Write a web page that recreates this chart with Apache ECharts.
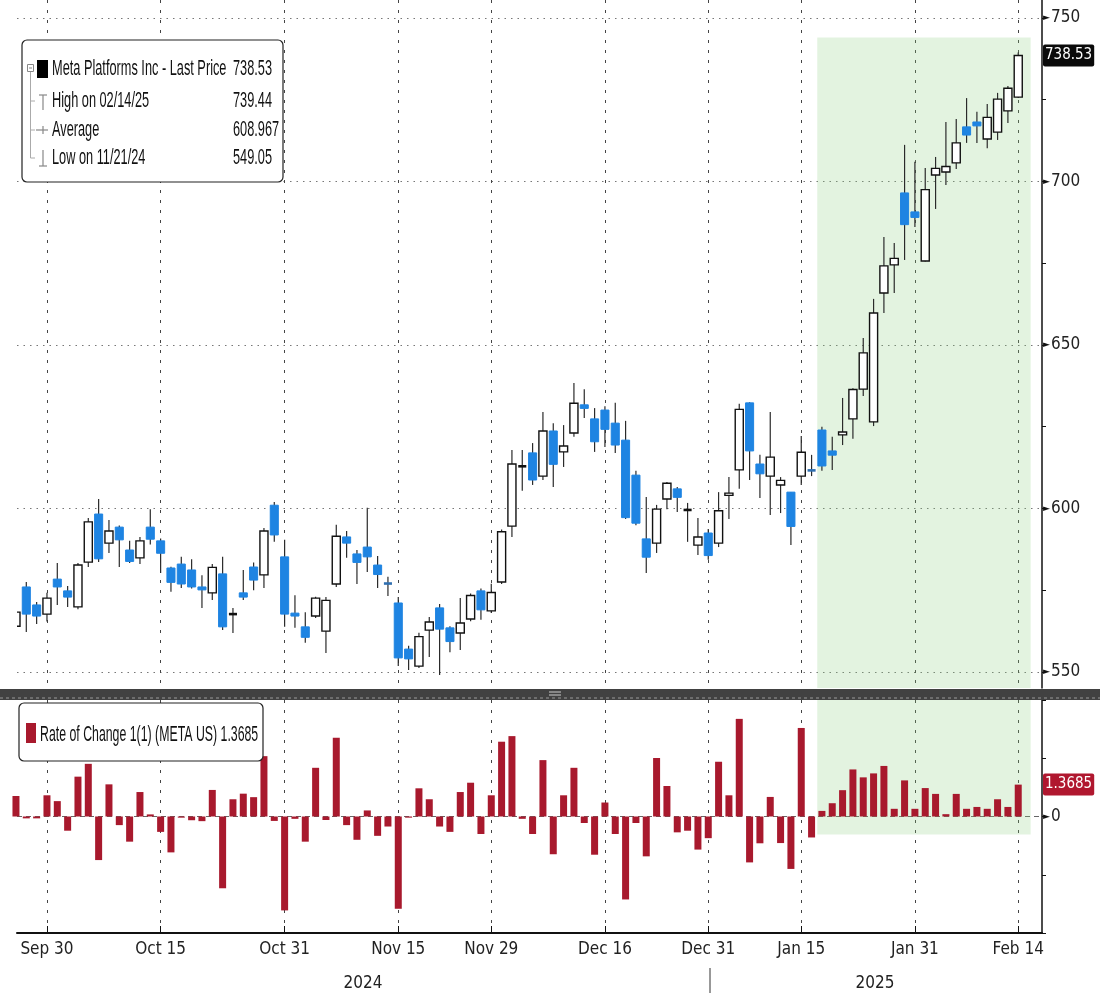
<!DOCTYPE html>
<html><head><meta charset="utf-8">
<script src="https://cdn.jsdelivr.net/npm/echarts@6/dist/echarts.min.js"></script>
<style>html,body{margin:0;padding:0;background:#fff}#c{width:1100px;height:993px}</style>
</head><body><div id="c"></div>
<script>
const dates = ['2024-09-25','2024-09-26','2024-09-27','2024-09-30',
'2024-10-01','2024-10-02','2024-10-03','2024-10-04','2024-10-07','2024-10-08','2024-10-09','2024-10-10','2024-10-11','2024-10-14','2024-10-15','2024-10-16','2024-10-17','2024-10-18','2024-10-21','2024-10-22','2024-10-23','2024-10-24','2024-10-25','2024-10-28','2024-10-29','2024-10-30','2024-10-31',
'2024-11-01','2024-11-04','2024-11-05','2024-11-06','2024-11-07','2024-11-08','2024-11-11','2024-11-12','2024-11-13','2024-11-14','2024-11-15','2024-11-18','2024-11-19','2024-11-20','2024-11-21','2024-11-22','2024-11-25','2024-11-26','2024-11-27','2024-11-29',
'2024-12-02','2024-12-03','2024-12-04','2024-12-05','2024-12-06','2024-12-09','2024-12-10','2024-12-11','2024-12-12','2024-12-13','2024-12-16','2024-12-17','2024-12-18','2024-12-19','2024-12-20','2024-12-23','2024-12-24','2024-12-26','2024-12-27','2024-12-30','2024-12-31',
'2025-01-02','2025-01-03','2025-01-06','2025-01-07','2025-01-08','2025-01-10','2025-01-13','2025-01-14','2025-01-15','2025-01-16','2025-01-17','2025-01-21','2025-01-22','2025-01-23','2025-01-24','2025-01-27','2025-01-28','2025-01-29','2025-01-30','2025-01-31',
'2025-02-03','2025-02-04','2025-02-05','2025-02-06','2025-02-07','2025-02-10','2025-02-11','2025-02-12','2025-02-13','2025-02-14'];

const opens = [564.0,576.0,570.5,567.7,578.4,574.8,569.9,583.6,598.3,589.4,594.3,587.3,584.9,594.3,590.1,581.8,583.0,581.2,576.0,574.2,580.0,567.5,574.2,582.1,579.7,601.0,585.2,
568.0,563.8,567.1,562.5,576.9,591.3,586.1,588.2,582.7,577.2,571.1,557.0,551.8,562.8,569.6,563.5,561.9,566.2,574.8,568.7,
577.5,594.6,612.8,617.0,609.9,623.7,617.3,623.1,631.7,627.4,630.1,626.1,620.9,610.2,590.7,589.4,602.9,606.0,599.4,588.8,592.5,
589.4,604.0,611.8,632.3,613.6,609.9,607.2,605.0,609.9,611.8,624.0,617.6,622.5,627.4,636.5,626.5,665.9,674.5,696.5,690.7,
675.7,702.0,702.9,705.7,716.7,718.2,713.0,715.1,721.6,725.8];

const closes = [568.3,567.7,567.1,572.6,576.0,572.9,582.7,595.9,584.6,593.1,590.4,583.8,590.1,590.6,586.3,577.4,576.9,576.0,575.1,582.0,563.8,567.9,572.9,578.1,593.1,591.9,567.7,
567.1,560.6,572.6,571.9,591.5,589.4,583.5,585.2,579.8,576.9,554.3,554.0,560.8,565.3,563.1,559.3,565.0,573.4,569.0,574.3,
592.9,613.6,613.0,608.7,623.7,613.5,619.1,632.2,630.6,620.4,624.2,619.4,597.2,595.5,585.1,599.8,607.7,603.4,599.7,591.3,585.6,
599.3,604.7,630.3,617.6,610.6,615.7,608.6,594.5,617.2,611.5,613.0,616.3,623.4,636.4,647.6,659.8,674.2,676.5,686.8,689.0,
697.5,704.0,704.6,711.8,714.2,717.0,719.6,725.2,728.5,738.53];

const lows = [562.5,562.2,564.7,565.4,570.5,569.9,569.2,582.1,583.6,586.4,582.1,583.3,583.0,589.0,580.3,574.5,575.7,575.5,569.6,572.0,562.8,561.9,572.0,575.0,575.7,589.8,563.8,
563.5,558.9,566.5,555.8,576.0,584.9,576.9,580.6,575.7,573.2,551.8,550.6,551.2,554.6,549.05,556.0,556.7,565.5,566.0,568.0,
576.9,591.3,605.4,607.2,608.7,606.6,612.7,621.9,627.7,617.3,618.8,617.0,596.8,594.9,580.3,586.4,599.8,598.9,589.8,585.8,584.3,
588.2,596.8,606.0,608.7,603.2,598.0,598.6,588.8,607.2,609.9,611.5,611.8,619.4,621.3,634.4,625.2,659.8,665.9,676.0,686.1,
675.5,691.6,698.9,703.8,711.8,711.8,710.2,712.7,717.9,725.5];

const highs = [569.5,577.5,571.4,574.2,583.3,576.3,583.3,597.1,602.9,596.5,594.8,590.1,591.3,599.8,590.8,582.2,585.2,584.5,579.6,583.0,585.2,569.6,581.2,583.5,594.0,602.0,590.4,
573.5,568.3,573.0,572.9,595.0,593.1,587.3,600.2,585.5,579.1,572.9,558.0,562.0,566.8,570.8,564.0,572.6,574.0,575.5,577.0,
593.6,617.9,617.9,620.0,629.5,626.1,625.5,638.4,636.5,630.7,631.3,632.3,626.8,611.5,603.5,601.1,608.1,606.6,601.7,597.1,593.7,
605.0,609.6,632.0,632.5,616.4,629.5,609.6,605.0,622.2,616.4,625.0,621.9,633.8,636.8,652.1,664.1,683.0,681.2,711.2,706.0,
704.1,707.5,718.2,719.1,725.5,721.3,723.7,727.1,729.2,739.44];

const roc = [0.88,-0.08,-0.08,0.91,0.66,-0.61,1.71,2.26,-1.87,1.38,
-0.37,-1.08,1.05,0.09,-0.66,-1.54,-0.05,-0.16,-0.2,1.14,
-3.08,0.74,0.98,0.83,2.59,-0.19,-4.03,-0.1,-1.08,2.09,
-0.15,3.38,-0.37,-1.0,0.26,-0.83,-0.43,-3.96,-0.05,1.21,
0.74,-0.43,-0.66,1.05,1.45,-0.75,0.91,3.21,3.45,-0.1,
-0.75,2.42,-1.62,0.91,2.09,-0.28,-1.64,0.6,-0.75,-3.56,
-0.28,-1.71,2.51,1.31,-0.68,-0.61,-1.42,-0.93,2.35,0.91,
4.19,-1.97,-1.15,0.84,-1.14,-2.25,3.8,-0.9,0.24,0.57,
1.13,2.02,1.68,1.85,2.17,0.33,1.55,0.33,1.22,0.97,
0.1,0.97,0.33,0.41,0.33,0.74,0.41,1.3685];

const xTickDates = ['2024-09-30','2024-10-15','2024-10-31','2024-11-15','2024-11-29','2024-12-16','2024-12-31','2025-01-15','2025-01-31','2025-02-14'];
const xTickLabels = ['Sep 30','Oct 15','Oct 31','Nov 15','Nov 29','Dec 16','Dec 31','Jan 15','Jan 31','Feb 14'];
const yearLabels = ['2024','2025'];
const priceLabels = [550,600,650,700,750];
const priceMinorTicks = [550,575,600,625,650,675,700,725,750];
const lastPrice = 738.53;
const lastRoc = 1.3685;
const legendRows = [
  {label:'Meta Platforms Inc - Last Price', value:'738.53'},
  {label:'High on 02/14/25', value:'739.44'},
  {label:'Average', value:'608.967'},
  {label:'Low on 11/21/24', value:'549.05'}
];
const rocLegend = 'Rate of Change 1(1) (META US)';

// layout
const baseIdx = dates.indexOf('2024-09-30');
const xIdx = dates.map((d,i)=> i - baseIdx);
const xTickIdx = xTickDates.map(d => dates.indexOf(d) - baseIdx);
const X_MIN = -2.9, X_MAX = 96.3;
const SHADE_X0 = 74.55, SHADE_X1 = 95.2, SHADE_TOP = 744, SHADE_ROC_BOTTOM = -0.77;
const P_MIN = 545.1, P_MAX = 755.5;

const NARROW = '"Liberation Sans Narrow","DejaVu Sans Condensed","Arial Narrow","Liberation Sans",sans-serif';
const BLUE = '#1e84e2', RED = '#a8192d';

const candleData = xIdx.map((x,i)=>[x, opens[i], closes[i], lows[i], highs[i]]);
const rocData = xIdx.map((x,i)=>[x, roc[i]]);
const closeData = xIdx.map((x,i)=>[x, closes[i]]);

function renderCandle(params, api) {
  const x = api.value(0), o = api.value(1), c = api.value(2), l = api.value(3), h = api.value(4);
  const pO = api.coord([x,o]), pC = api.coord([x,c]), pL = api.coord([x,l]), pH = api.coord([x,h]);
  const w = api.size([1,0])[0]*0.78;
  const up = c >= o;
  let top = Math.min(pO[1], pC[1]);
  let hgt = Math.abs(pO[1]-pC[1]);
  const doji = hgt < 2.2;
  if (doji) { top = (pO[1]+pC[1])/2 - 1.3; hgt = 2.6; }
  let bodyStyle;
  if (doji) bodyStyle = {fill: up ? '#111' : '#2f6fb0', stroke: null};
  else if (up) bodyStyle = {fill:'#fff', stroke:'#111', lineWidth:1.4};
  else bodyStyle = {fill: BLUE, stroke: BLUE, lineWidth:1};
  return {type:'group', children:[
    {type:'line', shape:{x1:pH[0], y1:pH[1], x2:pL[0], y2:pL[1]}, style:{stroke:'#2a2a2a', lineWidth:1.2}},
    {type:'rect', shape:{x:pO[0]-w/2, y:top, width:w, height:hgt}, style: bodyStyle}
  ]};
}

const TXT = {fontSize:22, fontFamily:'"Liberation Sans",sans-serif', fill:'#111', align:'left', verticalAlign:'middle', textAlign:'left', textVerticalAlign:'middle'};
const G = [];
G.push({type:'rect', shape:{x:22,y:40,width:261,height:142,r:5}, style:{fill:'#fff', stroke:'#222', lineWidth:1.2}, z:100});
const rowY = [69, 101, 130, 158];
legendRows.forEach((r,i)=>{
  G.push({type:'text', x:52, y:rowY[i], scaleX:0.58, z:101, style:Object.assign({text:r.label}, TXT)});
  G.push({type:'text', x:233, y:rowY[i], scaleX:0.58, z:101, style:Object.assign({text:r.value}, TXT)});
});
// icons
G.push({type:'rect', shape:{x:37,y:60,width:11,height:18}, style:{fill:'#000'}, z:101});
G.push({type:'rect', shape:{x:27.5,y:64.5,width:6,height:7}, style:{fill:'#fff', stroke:'#888', lineWidth:1}, z:101});
G.push({type:'line', shape:{x1:29,y1:68,x2:32,y2:68}, style:{stroke:'#888', lineWidth:1}, z:101});
G.push({type:'line', shape:{x1:30.5,y1:72,x2:30.5,y2:158}, style:{stroke:'#aaa', lineWidth:1}, z:101});
[101,130,158].forEach(y=>G.push({type:'line', shape:{x1:30.5,y1:y,x2:35,y2:y}, style:{stroke:'#aaa', lineWidth:1}, z:101}));
G.push({type:'line', shape:{x1:39,y1:95,x2:47,y2:95}, style:{stroke:'#888', lineWidth:1.2}, z:101});
G.push({type:'line', shape:{x1:43,y1:95,x2:43,y2:110}, style:{stroke:'#888', lineWidth:1.2}, z:101});
G.push({type:'line', shape:{x1:36,y1:130,x2:48,y2:130}, style:{stroke:'#888', lineWidth:1.2}, z:101});
G.push({type:'line', shape:{x1:43,y1:126,x2:43,y2:134}, style:{stroke:'#888', lineWidth:1.2}, z:101});
G.push({type:'line', shape:{x1:43,y1:150,x2:43,y2:166}, style:{stroke:'#888', lineWidth:1.2}, z:101});
G.push({type:'line', shape:{x1:39,y1:166,x2:47,y2:166}, style:{stroke:'#888', lineWidth:1.2}, z:101});
// lower legend
G.push({type:'rect', shape:{x:19,y:703,width:244,height:58,r:5}, style:{fill:'#fff', stroke:'#222', lineWidth:1.2}, z:100});
G.push({type:'rect', shape:{x:26,y:723,width:10,height:20}, style:{fill:RED}, z:101});
G.push({type:'text', x:40, y:735, scaleX:0.56, z:101, style:Object.assign({text: rocLegend + ' ' + lastRoc}, TXT)});
// divider between panels
G.push({type:'rect', shape:{x:0,y:689,width:1100,height:11}, style:{fill:'#414141'}, z:90});
G.push({type:'line', shape:{x1:0,y1:698,x2:1100,y2:698}, style:{stroke:'#9a9a9a', lineWidth:1, lineDash:[3,3]}, z:91});
G.push({type:'line', shape:{x1:549,y1:692,x2:561,y2:692}, style:{stroke:'#ccc', lineWidth:1}, z:91});
G.push({type:'line', shape:{x1:549,y1:695,x2:561,y2:695}, style:{stroke:'#ccc', lineWidth:1}, z:91});
// year labels
const YTXT = {fontSize:17, fontFamily:NARROW, fill:'#222', align:'center', verticalAlign:'middle', textAlign:'center', textVerticalAlign:'middle'};
G.push({type:'text', x:363, y:984, z:50, style:Object.assign({text:yearLabels[0]}, YTXT)});
G.push({type:'text', x:875, y:984, z:50, style:Object.assign({text:yearLabels[1]}, YTXT)});
G.push({type:'line', shape:{x1:710,y1:968,x2:710,y2:993}, style:{stroke:'#333', lineWidth:1}, z:50});

const vSplit = {show:true, lineStyle:{color:'#444', type:[3,7], width:1}};
const richArrow = {a:{fontSize:9, fontFamily:'"DejaVu Sans",sans-serif', color:'#111', padding:[0,1,0,0]}, b:{fontSize:17, fontFamily:NARROW, color:'#222'}};
const badge = (txt, bg) => ({show:true, position:'end', distance:1, formatter:txt, backgroundColor:bg, color:'#fff', padding:[4,2,3,2], fontSize:15, fontFamily:NARROW, borderRadius:2});

const option = {
  animation:false,
  backgroundColor:'#fff',
  grid:[
    {left:17, right:58, top:0, height:688},
    {left:17, right:58, top:700, height:233}
  ],
  xAxis:[
    {gridIndex:0, type:'value', min:X_MIN, max:X_MAX, axisLine:{show:false, onZero:false}, axisLabel:{show:false},
     axisTick:{show:false, customValues:xTickIdx}, splitLine:vSplit},
    {gridIndex:1, type:'value', min:X_MIN, max:X_MAX,
     axisLine:{show:true, onZero:false, lineStyle:{color:'#111', width:2}},
     axisTick:{show:true, inside:true, length:7, customValues:xTickIdx, lineStyle:{color:'#111'}},
     axisLabel:{show:true, customValues:xTickIdx, formatter:v=>{const k=xTickIdx.indexOf(v); return k>=0?xTickLabels[k]:'';}, fontSize:17, fontFamily:NARROW, color:'#222', margin:8},
     splitLine:vSplit}
  ],
  yAxis:[
    {gridIndex:0, type:'value', position:'right', min:P_MIN, max:P_MAX,
     axisLine:{show:true, onZero:false, lineStyle:{color:'#111', width:1.5}},
     axisTick:{show:true, length:4, customValues:priceMinorTicks, lineStyle:{color:'#111'}},
     axisLabel:{show:true, customValues:priceLabels, margin:1, formatter:v=>'{a|►}{b|'+v+'}', rich:richArrow},
     splitLine:{show:false}},
    {gridIndex:0, type:'value', position:'left', min:P_MIN, max:P_MAX, show:true,
     axisLine:{show:false, onZero:false}, axisLabel:{show:false}, axisTick:{show:false, customValues:priceLabels},
     splitLine:{show:true, lineStyle:{color:'#777', type:[1.5,5], width:1.2}}},
    {gridIndex:1, type:'value', position:'right', min:-5, max:5, interval:2.5,
     axisLine:{show:true, onZero:false, lineStyle:{color:'#111', width:1.5}},
     axisTick:{show:true, length:4, lineStyle:{color:'#111'}},
     axisLabel:{show:true, margin:1, formatter:v=> v===0 ? '{a|►}{b|0}' : '', rich:richArrow},
     splitLine:{show:false}},
    {gridIndex:1, type:'value', position:'left', min:-5, max:5, show:true,
     axisLine:{show:false, onZero:false}, axisLabel:{show:false}, axisTick:{show:false, customValues:[0]},
     splitLine:{show:true, lineStyle:{color:'#666', type:[5,4], width:1.2}}}
  ],
  series:[
    {type:'line', xAxisIndex:0, yAxisIndex:0, data:closeData, symbol:'none', lineStyle:{color:'rgba(0,0,0,0)', width:0}, silent:true, z:1,
     markArea:{silent:true, itemStyle:{color:'rgba(140,205,125,0.24)'}, data:[[{xAxis:SHADE_X0, yAxis:SHADE_TOP},{xAxis:SHADE_X1, yAxis:P_MIN}]]},
     markLine:{silent:true, symbol:'none', lineStyle:{color:'rgba(0,0,0,0)', width:1}, data:[{yAxis:lastPrice}],
       label:badge(lastPrice.toFixed(2), '#0a0a0a')}},
    {type:'custom', xAxisIndex:0, yAxisIndex:0, data:candleData, renderItem:renderCandle, clip:true, z:3, silent:true},
    {type:'bar', xAxisIndex:1, yAxisIndex:2, data:rocData, barWidth:7, itemStyle:{color:RED}, z:3, silent:true,
     markArea:{silent:true, itemStyle:{color:'rgba(140,205,125,0.24)'}, data:[[{xAxis:SHADE_X0, yAxis:5},{xAxis:SHADE_X1, yAxis:SHADE_ROC_BOTTOM}]]},
     markLine:{silent:true, symbol:'none', lineStyle:{color:'rgba(0,0,0,0)', width:1}, data:[{yAxis:lastRoc}],
       label:badge(String(lastRoc), '#b0172f')}}
  ],
  graphic: G
};
const chart = echarts.init(document.getElementById('c'), null, {renderer:'canvas'});
chart.setOption(option);
</script></body></html>
